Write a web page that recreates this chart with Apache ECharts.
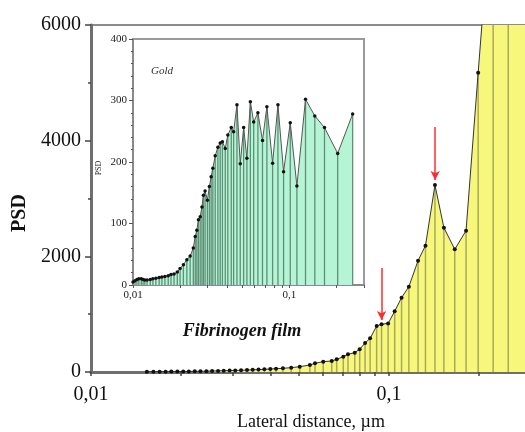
<!DOCTYPE html>
<html>
<head>
<meta charset="utf-8">
<script src="https://cdn.jsdelivr.net/npm/echarts@6/dist/echarts.min.js"></script>
<style>
  html, body { margin: 0; padding: 0; background: #fff; }
  #chart { width: 525px; height: 432px; }
</style>
</head>
<body>
<div id="chart"></div>
<script>
// Power spectral density of the fibrinogen film (main panel)
const filmX = [0.0154, 0.0162, 0.0170, 0.0178, 0.0186, 0.0195, 0.0204, 0.0213, 0.0223, 0.0233,
  0.0244, 0.0255, 0.0267, 0.0279, 0.0292, 0.0305, 0.0319, 0.0334, 0.0349, 0.0365,
  0.0382, 0.0400, 0.0418, 0.0441, 0.0470, 0.0502, 0.0543, 0.0565, 0.0602, 0.0643,
  0.0668, 0.0703, 0.0729, 0.0768, 0.0798, 0.0832, 0.0865, 0.0910, 0.0945, 0.0994,
  0.1046, 0.1103, 0.1167, 0.1253, 0.1327, 0.1428, 0.1530, 0.1664, 0.1816, 0.1994,
  0.2239, 0.2516, 0.2900];
const filmPSD = [5, 4, 6, 5, 7, 8, 9, 10, 12, 13,
  15, 17, 19, 22, 24, 27, 30, 34, 38, 42,
  47, 52, 57, 64, 75, 92, 121, 150, 179, 190,
  219, 265, 306, 334, 395, 500, 582, 795, 825, 840,
  1050, 1285, 1475, 1925, 2184, 3233, 2495, 2121, 2443, 5175,
  8500, 10000, 11000];

// Power spectral density of the bare gold substrate (inset)
const goldX = [0.0100, 0.0103, 0.0106, 0.0109, 0.0113, 0.0116, 0.0119, 0.0123, 0.0129, 0.0134,
  0.0140, 0.0147, 0.0153, 0.0160, 0.0168, 0.0175, 0.0183, 0.0192, 0.0200, 0.0210,
  0.0221, 0.0232, 0.0243, 0.0250, 0.0256, 0.0262, 0.0269, 0.0276, 0.0282, 0.0289,
  0.0299, 0.0308, 0.0316, 0.0324, 0.03355, 0.0349, 0.0361, 0.0373, 0.0389, 0.0404,
  0.0425, 0.0440, 0.0462, 0.0485, 0.0510, 0.0535, 0.0563, 0.0591, 0.0629, 0.0673,
  0.0718, 0.0781, 0.0845, 0.0918, 0.1013, 0.1117, 0.1268, 0.1454, 0.1677, 0.2036,
  0.2538];
const goldPSD = [5, 7, 9, 10, 10, 9, 8, 8, 9, 10,
  11, 12, 13, 14, 15, 17, 18, 21, 27, 33,
  41, 47, 60, 79, 89, 106, 111, 127, 146, 153,
  138, 160, 176, 190, 210, 224, 231, 233, 222, 244,
  256, 249, 293, 197, 256, 206, 298, 265, 280, 235,
  290, 198, 293, 184, 264, 161, 302, 275, 256, 214,
  278];

// Arrows marking the two spectral features: [x, tail PSD, head PSD]
const arrowMarks = [[0.0945, 1800, 900], [0.143, 4236, 3320]];

// Axis ticks and labels
const mainYTicks = [0, 2000, 4000, 6000];
const insetYTicks = [0, 100, 200, 300, 400];
const xLabelValues = [0.01, 0.1];
const xTickValues = [0.01, 0.02, 0.03, 0.04, 0.05, 0.06, 0.07, 0.08, 0.09, 0.1, 0.2, 0.3];

const filmData = filmX.map((x, i) => [x, filmPSD[i]]);
const goldData = goldX.map((x, i) => [x, goldPSD[i]]);

const serif = '"Liberation Serif", "DejaVu Serif", serif';
const fmtComma = v => String(+v.toPrecision(3)).replace('.', ',');
const fmtPlain = v => String(v);

function dropLines(color, width) {
  return function (params, api) {
    const x = api.value(0), y = api.value(1);
    const top = api.coord([x, y]);
    const bot = api.coord([x, 0]);
    return {
      type: 'line',
      shape: { x1: top[0], y1: top[1], x2: bot[0], y2: bot[1] },
      style: { stroke: color, lineWidth: width }
    };
  };
}

const chart = echarts.init(document.getElementById('chart'), null, { renderer: 'canvas' });

chart.setOption({
  animation: false,
  backgroundColor: '#fff',
  grid: [
    { left: 91, top: 25, right: -6, bottom: 60, outerBoundsMode: 'none', containLabel: false,
      show: true, borderColor: '#8c8c8c', borderWidth: 2, backgroundColor: '#fff', z: 0 },
    { left: 133, top: 39, width: 231, height: 246, outerBoundsMode: 'none', containLabel: false,
      show: true, borderColor: '#9a9a9a', borderWidth: 2, backgroundColor: '#fff', z: 0 }
  ],
  xAxis: [
    {
      type: 'log', gridIndex: 0, min: 0.01, max: 0.3, logBase: 10,
      name: 'Lateral distance, µm', nameLocation: 'middle', nameGap: 41,
      nameTextStyle: { fontFamily: serif, fontSize: 18, color: '#111' },
      axisLine: { show: true, onZero: false, lineStyle: { color: '#6e6e6e', width: 3 } },
      axisTick: { show: true, customValues: xTickValues, length: 4, lineStyle: { color: '#444', width: 1.5 } },
      axisLabel: { customValues: xLabelValues, formatter: fmtComma, fontFamily: serif, fontSize: 20, color: '#111', margin: 13 },
      splitLine: { show: false }
    },
    {
      type: 'log', gridIndex: 1, min: 0.01, max: 0.3, logBase: 10,
      axisLine: { show: true, onZero: false, lineStyle: { color: '#8a8a8a', width: 2 } },
      axisTick: { show: true, customValues: xTickValues, length: 3, lineStyle: { color: '#555', width: 1 } },
      axisLabel: { customValues: xLabelValues, formatter: fmtComma, fontFamily: serif, fontSize: 11, color: '#222', margin: 5 },
      splitLine: { show: false }
    }
  ],
  yAxis: [
    {
      type: 'value', gridIndex: 0, min: mainYTicks[0], max: mainYTicks[mainYTicks.length - 1], interval: 2000,
      axisLine: { show: true, lineStyle: { color: '#6e6e6e', width: 3 } },
      axisTick: { show: true, length: 6, lineStyle: { color: '#444', width: 1.5 } },
      minorTick: { show: true, splitNumber: 2, length: 3, lineStyle: { color: '#444', width: 1.5 } },
      axisLabel: { formatter: fmtPlain, fontFamily: serif, fontSize: 20, color: '#111', margin: 10 },
      splitLine: { show: false }
    },
    {
      type: 'value', gridIndex: 1, min: insetYTicks[0], max: insetYTicks[insetYTicks.length - 1], interval: 100,
      axisLine: { show: true, lineStyle: { color: '#8a8a8a', width: 2 } },
      axisTick: { show: true, length: 4, lineStyle: { color: '#555', width: 1 } },
      minorTick: { show: true, splitNumber: 5, length: 2, lineStyle: { color: '#555', width: 1 } },
      axisLabel: { formatter: fmtPlain, fontFamily: serif, fontSize: 11, color: '#222', margin: 6 },
      splitLine: { show: false }
    }
  ],
  series: [
    // fibrinogen film: filled area
    {
      type: 'line', xAxisIndex: 0, yAxisIndex: 0, data: filmData, z: 1,
      symbol: 'none', lineStyle: { width: 0 },
      areaStyle: { color: '#f7f77c', opacity: 1 },
      markLine: {
        silent: true, symbol: ['none', 'arrow'], symbolSize: [7, 9],
        lineStyle: { color: '#ff2b2b', width: 1.5, type: 'solid' },
        label: { show: false },
        data: arrowMarks.map(a => [{ coord: [a[0], a[1]] }, { coord: [a[0], a[2]] }])
      }
    },
    // fibrinogen film: drop lines
    {
      type: 'custom', xAxisIndex: 0, yAxisIndex: 0, data: filmData, z: 2, clip: true,
      renderItem: dropLines('#a9a95c', 1.5)
    },
    // fibrinogen film: curve and points
    {
      type: 'line', xAxisIndex: 0, yAxisIndex: 0, data: filmData, z: 3,
      symbol: 'circle', symbolSize: 4, showAllSymbol: true,
      itemStyle: { color: '#111' }, lineStyle: { color: '#333', width: 1 }
    },
    // gold: filled area
    {
      type: 'line', xAxisIndex: 1, yAxisIndex: 1, data: goldData, z: 1,
      symbol: 'none', lineStyle: { width: 0 },
      areaStyle: { color: '#b5f5d6', opacity: 1 }
    },
    // gold: drop lines
    {
      type: 'custom', xAxisIndex: 1, yAxisIndex: 1, data: goldData, z: 2, clip: true,
      renderItem: dropLines('#5f8f76', 1.3)
    },
    // gold: curve and points
    {
      type: 'line', xAxisIndex: 1, yAxisIndex: 1, data: goldData, z: 3,
      symbol: 'circle', symbolSize: 3.5, showAllSymbol: true,
      itemStyle: { color: '#111' }, lineStyle: { color: '#555', width: 1 }
    }
  ],
  graphic: [
    {
      type: 'text', x: 20, y: 213, rotation: Math.PI / 2, z: 10,
      style: { text: 'PSD', fontFamily: serif, fontSize: 20, fontWeight: 'bold', fill: '#111', align: 'center', verticalAlign: 'middle' }
    },
    {
      type: 'text', x: 99, y: 168, rotation: Math.PI / 2, z: 10,
      style: { text: 'PSD', fontFamily: serif, fontSize: 8, fill: '#222', align: 'center', verticalAlign: 'middle' }
    },
    {
      type: 'text', x: 162, y: 71, z: 10,
      style: { text: 'Gold', fontFamily: serif, fontSize: 11, fontStyle: 'italic', fill: '#333', align: 'center', verticalAlign: 'middle' }
    },
    {
      type: 'text', x: 242, y: 331, z: 10,
      style: { text: 'Fibrinogen film', fontFamily: serif, fontSize: 18, fontStyle: 'italic', fontWeight: 'bold', fill: '#111', align: 'center', verticalAlign: 'middle' }
    }
  ]
});
</script>
</body>
</html>
